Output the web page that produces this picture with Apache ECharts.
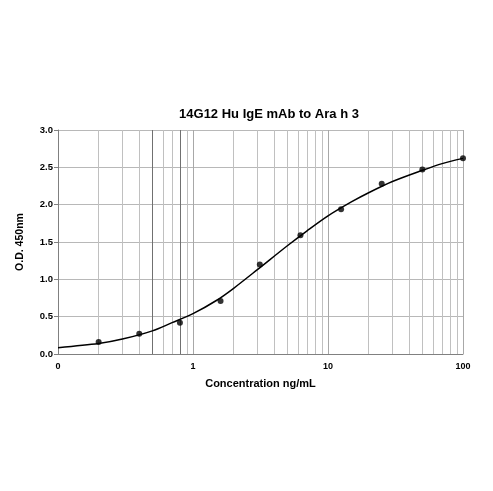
<!DOCTYPE html>
<html>
<head>
<meta charset="utf-8">
<script src="https://cdn.jsdelivr.net/npm/echarts@6/dist/echarts.min.js"></script>
<style>html,body{margin:0;padding:0;background:#fff;}#c{width:493px;height:491px;}</style>
</head>
<body>
<div id="c"></div>
<script>
const titleText = "14G12 Hu IgE mAb to Ara h 3";
const xName = "Concentration ng/mL";
const yName = "O.D. 450nm";
// measured standards
const concentrations = [0.2, 0.4, 0.8, 1.6, 3.125, 6.25, 12.5, 25, 50, 100];
const odValues = [0.16, 0.27, 0.42, 0.71, 1.20, 1.59, 1.94, 2.28, 2.47, 2.62];
// fitted curve
const curveX = [0.1, 0.2, 0.3, 0.5, 0.7, 1, 1.5, 2, 3, 5, 7, 10, 15, 20, 30, 50, 70, 100];
const curveY = [0.085, 0.14, 0.20, 0.31, 0.42, 0.54, 0.72, 0.88, 1.13, 1.45, 1.65, 1.85, 2.04, 2.16, 2.31, 2.46, 2.55, 2.62];
// minor log grid positions
const minorGrid = [0.2, 0.3, 0.4, 0.6, 0.7, 0.9, 2, 3, 4, 5, 6, 7, 8, 9, 20, 30, 40, 50, 60, 70, 80, 90];
const darkGrid = [0.5, 0.8];
const xTickLabels = {0.1: "0", 1: "1", 10: "10", 100: "100"};

const font = "'Liberation Sans', Arial, sans-serif";
const chart = echarts.init(document.getElementById('c'), null, {renderer: 'canvas'});
chart.setOption({
  animation: false,
  backgroundColor: '#fff',
  title: {
    text: titleText, left: 264, top: 103, textAlign: 'center',
    textStyle: {fontFamily: font, fontWeight: 'bold', fontSize: 13, color: '#000'}
  },
  grid: {left: 58, right: 30, top: 130, bottom: 137, containLabel: false},
  xAxis: {
    type: 'log', logBase: 10, min: 0.1, max: 100,
    name: xName, nameLocation: 'middle', nameGap: 24,
    nameTextStyle: {fontFamily: font, fontWeight: 'bold', fontSize: 11, color: '#000'},
    axisLine: {lineStyle: {color: '#808080', width: 1}},
    axisTick: {show: false},
    axisLabel: {fontFamily: font, fontWeight: 'bold', fontSize: 9, color: '#000', margin: 8,
      formatter: v => { const k = Math.round(Math.log10(v)); return xTickLabels[Math.pow(10,k)] !== undefined ? xTickLabels[Math.pow(10,k)] : String(v); }},
    splitLine: {show: true, lineStyle: {color: '#a8a8a8', width: 1}}
  },
  yAxis: {
    type: 'value', min: 0, max: 3, interval: 0.5,
    name: yName, nameLocation: 'middle', nameGap: 32, nameRotate: 90,
    nameTextStyle: {fontFamily: font, fontWeight: 'bold', fontSize: 10.5, color: '#000'},
    axisLine: {show: true, lineStyle: {color: '#808080', width: 1}},
    axisTick: {show: true, length: 4, lineStyle: {color: '#808080'}},
    axisLabel: {fontFamily: font, fontWeight: 'bold', fontSize: 9.5, color: '#000', margin: 5,
      formatter: v => v.toFixed(1)},
    splitLine: {show: true, lineStyle: {color: '#b8b8b8', width: 1}}
  },
  series: [
    {
      type: 'line', data: [], silent: true, z: 1,
      markLine: {
        silent: true, symbol: 'none', animation: false, z: 1,
        label: {show: false},
        data: minorGrid.map(v => ({xAxis: v, lineStyle: {color: '#c0c0c0', width: 1, type: 'solid'}}))
          .concat(darkGrid.map(v => ({xAxis: v, lineStyle: {color: '#707070', width: 1, type: 'solid'}})))
      }
    },
    {
      type: 'line', data: curveX.map((x, i) => [x, curveY[i]]), z: 3,
      smooth: 0.3, showSymbol: false, silent: true,
      lineStyle: {color: '#000', width: 1.5}
    },
    {
      type: 'scatter', data: concentrations.map((x, i) => [x, odValues[i]]), z: 5,
      symbol: 'circle', symbolSize: 6, silent: true,
      itemStyle: {color: '#000'}
    }
  ]
});
</script>
</body>
</html>
